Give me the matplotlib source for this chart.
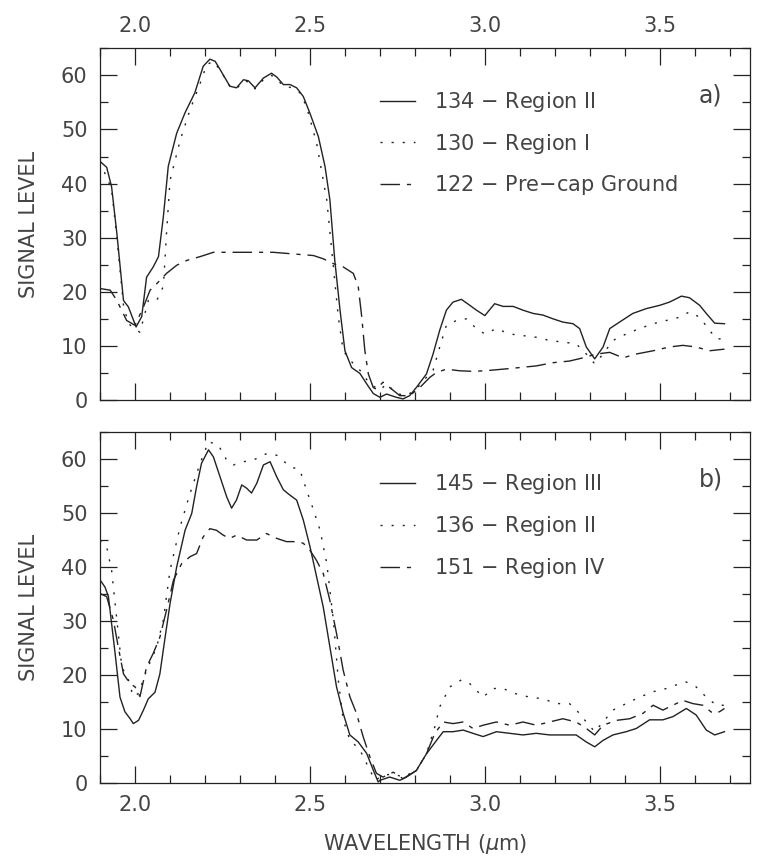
import matplotlib
matplotlib.use('Agg')
import matplotlib.pyplot as plt
from matplotlib.ticker import MultipleLocator
import numpy as np

# ---- panel a) ----
a_wl_134 = [1.900, 1.919, 1.933, 1.948, 1.967, 1.981, 2.003, 2.019, 2.033, 2.052, 2.067, 2.081,
            2.095, 2.119, 2.143, 2.171, 2.195, 2.214, 2.229, 2.243, 2.271, 2.290, 2.310, 2.324,
            2.343, 2.367, 2.390, 2.405, 2.424, 2.443, 2.462, 2.481, 2.500, 2.524, 2.543, 2.557,
            2.571, 2.586, 2.600, 2.619, 2.643, 2.662, 2.681, 2.700, 2.719, 2.747, 2.766, 2.785,
            2.804, 2.833, 2.852, 2.871, 2.890, 2.909, 2.933, 2.957, 2.976, 3.000, 3.028, 3.052,
            3.081, 3.109, 3.138, 3.166, 3.195, 3.223, 3.252, 3.271, 3.290, 3.314, 3.338, 3.357,
            3.385, 3.423, 3.462, 3.500, 3.528, 3.562, 3.585, 3.614, 3.633, 3.657, 3.685]
a_sig_134 = [44.1, 43.0, 39.4, 30.8, 18.4, 17.2, 13.5, 15.4, 22.7, 24.6, 26.5, 33.9,
             43.2, 49.3, 53.1, 56.8, 61.7, 63.0, 62.6, 61.1, 58.0, 57.7, 59.2, 59.0,
             57.7, 59.5, 60.4, 59.7, 58.3, 58.3, 57.7, 56.1, 53.0, 48.7, 43.2, 37.0,
             25.8, 16.6, 9.1, 6.0, 4.9, 3.0, 1.2, 0.5, 1.1, 0.5, 0.2, 0.8,
             2.3, 4.8, 8.5, 12.9, 16.6, 18.1, 18.6, 17.5, 16.6, 15.6, 17.8, 17.3,
             17.3, 16.6, 16.0, 15.7, 15.0, 14.4, 14.1, 13.2, 9.8, 7.6, 9.8, 13.2,
             14.4, 16.0, 16.9, 17.5, 18.1, 19.2, 18.9, 17.5, 16.0, 14.2, 14.1]

a_wl_130 = [1.900, 1.933, 1.948, 1.967, 1.981, 2.014, 2.038, 2.062, 2.081, 2.090, 2.100, 2.129,
            2.157, 2.186, 2.205, 2.224, 2.243, 2.271, 2.290, 2.310, 2.324, 2.343, 2.367, 2.390,
            2.405, 2.424, 2.443, 2.471, 2.490, 2.519, 2.548, 2.567, 2.581, 2.595, 2.624, 2.643,
            2.671, 2.700, 2.719, 2.747, 2.776, 2.804, 2.833, 2.852, 2.871, 2.890, 2.919, 2.947,
            2.976, 3.000, 3.033, 3.071, 3.109, 3.147, 3.185, 3.223, 3.261, 3.290, 3.314, 3.338,
            3.366, 3.404, 3.442, 3.481, 3.519, 3.557, 3.585, 3.614, 3.642, 3.662, 3.685]
a_sig_130 = [44.0, 39.0, 30.0, 17.5, 14.1, 12.5, 18.4, 18.4, 21.0, 30.8, 40.6, 48.0,
             53.6, 58.5, 62.0, 62.6, 61.0, 58.0, 57.5, 59.0, 58.8, 57.5, 59.2, 60.0,
             59.3, 58.0, 57.8, 56.8, 54.3, 47.5, 37.0, 24.6, 15.4, 9.1, 6.7, 5.5,
             3.0, 1.8, 3.0, 1.2, 0.8, 2.0, 4.2, 5.5, 9.8, 13.8, 14.7, 15.0,
             13.2, 12.2, 13.2, 12.2, 11.9, 11.6, 11.0, 10.7, 10.4, 8.5, 6.7, 8.5,
             11.0, 12.2, 13.2, 14.1, 14.7, 15.3, 16.3, 15.3, 12.9, 11.3, 11.3]

a_wl_122 = [1.900, 1.929, 1.948, 1.976, 2.000, 2.024, 2.043, 2.062, 2.090, 2.119, 2.148, 2.186,
            2.224, 2.281, 2.338, 2.395, 2.452, 2.510, 2.538, 2.567, 2.595, 2.624, 2.638, 2.648,
            2.657, 2.667, 2.681, 2.690, 2.709, 2.728, 2.757, 2.785, 2.814, 2.843, 2.862, 2.890,
            2.928, 2.966, 3.000, 3.052, 3.100, 3.147, 3.195, 3.242, 3.281, 3.319, 3.357, 3.395,
            3.433, 3.481, 3.528, 3.566, 3.604, 3.642, 3.685]
a_sig_122 = [20.6, 20.3, 18.4, 14.7, 13.8, 17.2, 20.3, 21.5, 23.4, 24.9, 25.8, 26.5,
             27.3, 27.3, 27.3, 27.3, 27.0, 26.7, 26.1, 25.2, 24.6, 23.4, 21.0, 15.4,
             9.1, 4.8, 2.3, 2.0, 3.3, 2.3, 0.8, 0.8, 2.3, 4.2, 5.1, 5.7,
             5.4, 5.3, 5.4, 5.7, 6.0, 6.3, 6.9, 7.2, 7.8, 8.5, 8.8, 7.8,
             8.5, 9.1, 9.8, 10.1, 9.8, 9.1, 9.4]

# ---- panel b) ----
b_wl_145 = [1.900, 1.914, 1.924, 1.943, 1.957, 1.971, 1.986, 1.995, 2.010, 2.024, 2.038, 2.057,
            2.071, 2.086, 2.100, 2.119, 2.143, 2.162, 2.176, 2.190, 2.210, 2.224, 2.243, 2.262,
            2.276, 2.290, 2.305, 2.319, 2.333, 2.348, 2.367, 2.386, 2.405, 2.424, 2.443, 2.462,
            2.481, 2.500, 2.519, 2.538, 2.557, 2.576, 2.595, 2.614, 2.638, 2.662, 2.681, 2.695,
            2.700, 2.728, 2.757, 2.776, 2.804, 2.833, 2.862, 2.881, 2.909, 2.938, 2.966, 2.995,
            3.033, 3.071, 3.109, 3.147, 3.185, 3.223, 3.261, 3.290, 3.314, 3.338, 3.366, 3.404,
            3.433, 3.471, 3.509, 3.538, 3.576, 3.604, 3.633, 3.657, 3.685]
b_sig_145 = [37.6, 36.3, 34.5, 24.0, 15.9, 13.2, 11.9, 11.0, 11.6, 13.5, 15.6, 16.8,
             20.2, 27.0, 33.2, 40.0, 46.8, 49.9, 54.9, 59.2, 61.7, 60.4, 56.7, 53.0,
             50.9, 52.4, 55.2, 54.6, 53.7, 55.5, 58.9, 59.5, 56.7, 54.3, 53.3, 52.4,
             48.7, 43.8, 38.2, 32.6, 25.2, 17.8, 12.9, 8.9, 7.6, 5.5, 2.4, 0.2,
             0.5, 1.1, 0.5, 1.1, 2.3, 5.4, 7.9, 9.5, 9.5, 9.8, 9.2, 8.6,
             9.5, 9.2, 8.9, 9.2, 8.9, 8.9, 8.9, 7.6, 6.7, 7.9, 8.9, 9.5,
             10.1, 11.7, 11.7, 12.3, 13.8, 12.6, 9.8, 8.9, 9.5]

b_wl_136 = [1.900, 1.919, 1.933, 1.948, 1.962, 1.981, 1.995, 2.010, 2.033, 2.062, 2.081, 2.100,
            2.129, 2.157, 2.186, 2.210, 2.238, 2.262, 2.281, 2.310, 2.338, 2.376, 2.405, 2.443,
            2.471, 2.490, 2.510, 2.529, 2.548, 2.567, 2.581, 2.595, 2.614, 2.643, 2.662, 2.686,
            2.709, 2.738, 2.766, 2.804, 2.833, 2.857, 2.871, 2.900, 2.933, 2.957, 2.995, 3.023,
            3.052, 3.090, 3.128, 3.166, 3.204, 3.242, 3.266, 3.290, 3.314, 3.338, 3.366, 3.404,
            3.442, 3.481, 3.519, 3.557, 3.576, 3.604, 3.633, 3.662, 3.685]
b_sig_136 = [45.0, 43.7, 39.4, 30.2, 21.5, 19.1, 16.0, 16.6, 20.9, 25.2, 30.2, 39.4,
             47.5, 53.6, 59.2, 63.2, 62.6, 59.8, 58.9, 59.5, 59.8, 61.0, 60.7, 58.6,
             58.0, 54.3, 50.6, 46.8, 40.7, 30.2, 19.1, 11.7, 8.0, 6.1, 3.6, 0.5,
             1.4, 1.7, 1.1, 2.3, 5.4, 10.4, 14.1, 17.8, 19.1, 18.4, 15.9, 17.5,
             17.5, 16.5, 15.9, 15.6, 14.7, 14.7, 13.2, 11.3, 9.5, 11.3, 13.5, 14.7,
             15.9, 16.9, 17.5, 18.4, 18.7, 17.8, 15.9, 14.4, 14.4]

b_wl_151 = [1.900, 1.919, 1.938, 1.952, 1.967, 1.986, 2.000, 2.014, 2.033, 2.052, 2.071, 2.090,
            2.110, 2.133, 2.157, 2.176, 2.195, 2.214, 2.233, 2.252, 2.271, 2.290, 2.319, 2.348,
            2.376, 2.405, 2.433, 2.462, 2.481, 2.500, 2.519, 2.538, 2.557, 2.576, 2.595, 2.614,
            2.633, 2.652, 2.671, 2.690, 2.709, 2.738, 2.766, 2.804, 2.833, 2.857, 2.881, 2.909,
            2.938, 2.966, 2.995, 3.033, 3.071, 3.109, 3.147, 3.185, 3.223, 3.261, 3.290, 3.314,
            3.338, 3.376, 3.414, 3.452, 3.481, 3.509, 3.547, 3.566, 3.595, 3.623, 3.652, 3.671,
            3.685]
b_sig_151 = [35.1, 34.5, 30.2, 25.2, 20.2, 18.4, 17.8, 16.0, 21.5, 24.0, 27.0, 32.0,
             37.6, 40.6, 41.9, 42.5, 45.6, 47.1, 46.8, 45.9, 45.3, 45.9, 45.0, 45.0,
             46.2, 45.3, 44.7, 44.7, 44.4, 43.1, 41.2, 38.8, 33.8, 27.7, 20.9, 16.0,
             12.9, 8.6, 4.9, 1.8, 1.1, 2.0, 0.8, 2.3, 5.4, 9.2, 11.3, 11.0,
             11.3, 10.1, 10.7, 11.3, 10.7, 11.3, 10.7, 11.3, 11.9, 11.3, 10.1, 8.9,
             10.7, 11.6, 11.9, 12.9, 14.4, 13.5, 14.7, 15.3, 14.7, 14.4, 12.9, 13.2,
             13.8]

labels_a = ['134 $-$ Region II', '130 $-$ Region I', '122 $-$ Pre$-$cap Ground']
labels_b = ['145 $-$ Region III', '136 $-$ Region II', '151 $-$ Region IV']

x_ticks = [2.0, 2.5, 3.0, 3.5]
y_ticks = [0, 10, 20, 30, 40, 50, 60]

INK = '#222222'
TXT = '#444444'
# solid, sparse dots, long dash + short dash (IDL style)
styles = ['-', (0, (1.5, 6.5)), (0, (14, 5, 3, 5))]

plt.rcParams['font.family'] = ['DejaVu Sans']
plt.rcParams['mathtext.fontset'] = 'dejavusans'

fig = plt.figure(figsize=(7.58, 8.63), dpi=100)
ax_a = fig.add_axes([0.132, 0.5365, 0.857, 0.4075])
ax_b = fig.add_axes([0.132, 0.0927, 0.857, 0.4067])


def style_axes(ax, top_labels):
    ax.set_xlim(1.9, 3.757)
    ax.set_ylim(0, 65)
    ax.set_xticks(x_ticks)
    ax.set_yticks(y_ticks)
    ax.xaxis.set_minor_locator(MultipleLocator(0.1))
    ax.yaxis.set_minor_locator(MultipleLocator(5))
    ax.tick_params(which='both', direction='in', top=True, right=True,
                   colors=INK, labelcolor=TXT, labelsize=15, width=0.9)
    ax.tick_params(which='major', length=12, pad=9)
    ax.tick_params(which='minor', length=6)
    ax.tick_params(axis='x', labeltop=top_labels, labelbottom=not top_labels)
    for s in ax.spines.values():
        s.set_color(INK)
        s.set_linewidth(0.9)
    ax.set_ylabel('SIGNAL LEVEL', fontsize=15, color=TXT, labelpad=16)


def draw_panel(ax, series, labels, tag, leg_y):
    for (wl, sig), ls, lab in zip(series, styles, labels):
        ax.plot(wl, sig, color=INK, lw=1.0, linestyle=ls, label=lab)
    leg = ax.legend(loc='upper left', bbox_to_anchor=(0.431, leg_y), frameon=False,
                    fontsize=15, handlelength=1.7, handletextpad=0.9,
                    labelspacing=0.85, borderpad=0, borderaxespad=0)
    for t in leg.get_texts():
        t.set_color(TXT)
    ax.text(0.94, 0.865, tag, transform=ax.transAxes, fontsize=17, color=TXT,
            ha='center', va='center')


style_axes(ax_a, True)
draw_panel(ax_a, [(a_wl_134, a_sig_134), (a_wl_130, a_sig_130), (a_wl_122, a_sig_122)],
           labels_a, 'a)', 0.882)
style_axes(ax_b, False)
draw_panel(ax_b, [(b_wl_145, b_sig_145), (b_wl_136, b_sig_136), (b_wl_151, b_sig_151)],
           labels_b, 'b)', 0.885)
ax_b.set_xlabel(r'WAVELENGTH ($\mu$m)', fontsize=15, color=TXT, labelpad=12)

fig.savefig('out.png', dpi=100)
